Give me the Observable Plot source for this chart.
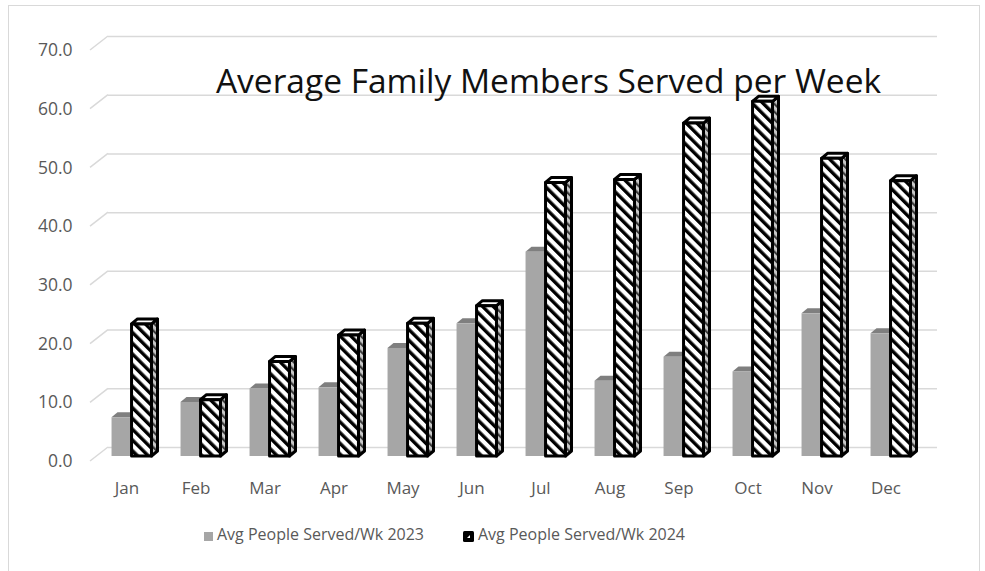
<!DOCTYPE html>
<html><head><meta charset="utf-8">
<script src="https://cdn.jsdelivr.net/npm/d3@7"></script>
<script src="https://cdn.jsdelivr.net/npm/@observablehq/plot@0.6"></script>
<style>
body{margin:0;background:#fff;font-family:"Open Sans",sans-serif;}
#wrap{position:relative;width:985px;height:571px;overflow:hidden;}
#chart{position:absolute;left:0;top:0;}
#frame{position:absolute;left:8px;top:5px;width:972px;height:620px;border:1.5px solid #d9d9d9;box-sizing:border-box;pointer-events:none;}
.legtxt{position:absolute;top:524px;font-size:16px;line-height:20px;color:#595959;white-space:nowrap;}
.sw{position:absolute;}
</style></head><body>
<div id="wrap">
  <div id="chart"></div>
  <div id="legend"></div>
  <div id="frame"></div>
</div>
<script>
const months = ["Jan","Feb","Mar","Apr","May","Jun","Jul","Aug","Sep","Oct","Nov","Dec"];
const avg2023 = [6.6, 9.2, 11.5, 11.7, 18.4, 22.6, 34.8, 12.8, 16.9, 14.4, 24.3, 20.9];
const avg2024 = [22.5, 9.6, 16.1, 20.6, 22.6, 25.6, 46.6, 47.1, 56.7, 60.4, 50.7, 46.9];
const yTicks = [0, 10, 20, 30, 40, 50, 60, 70];
const seriesLabels = ["Avg People Served/Wk 2023", "Avg People Served/Wk 2024"];
const chartTitle = "Average Family Members Served per Week";

const rows = months.map((m, i) => ({month: m, v2023: avg2023[i], v2024: avg2024[i]}));

// 3D look parameters (pixels)
const D = 6, E = 5, LIFT = 9;
const BW = (926.55 - 97.45) / months.length;
const G = {a: -21, b: -2};   // gray bar offsets from band centre
const H = {a: -1, b: 19};    // hatched bar offsets from band centre

const defsMark = () => {
  const g = d3.create("svg:g");
  const defs = g.append("defs");
  const p = defs.append("pattern").attr("id", "hatch").attr("patternUnits", "userSpaceOnUse")
    .attr("width", 7.6).attr("height", 7.6).attr("patternTransform", "rotate(-45)");
  p.append("rect").attr("width", 7.6).attr("height", 7.6).attr("fill", "#fff");
  p.append("rect").attr("width", 3.4).attr("height", 7.6).attr("fill", "#000");
  const s = defs.append("pattern").attr("id", "hatchSide").attr("patternUnits", "userSpaceOnUse")
    .attr("width", 5.5).attr("height", 5.5).attr("patternTransform", "rotate(-45)");
  s.append("rect").attr("width", 5.5).attr("height", 5.5).attr("fill", "#c8c8c8");
  s.append("rect").attr("width", 2.2).attr("height", 5.5).attr("fill", "#3a3a3a");
  return g.node();
};

const diagonals = (index, scales) => {
  const {y} = scales;
  const g = d3.create("svg:g");
  for (const t of yTicks) {
    g.append("line").attr("x1", 90).attr("y1", y(t) + 14).attr("x2", 108).attr("y2", y(t))
      .attr("stroke", "#d9d9d9").attr("stroke-width", 1.5);
  }
  return g.node();
};

function faces(key, off, topFill, sideFill, stroke, sw) {
  return (index, scales) => {
    const {x, y} = scales;
    const g = d3.create("svg:g");
    for (const r of rows) {
      const c = x(r.month) + x.bandwidth() / 2;
      const xa = c + off.a, xb = c + off.b;
      const yt = y(r[key]) + LIFT, yb = y(0) + LIFT;
      const attrs = el => el.attr("stroke", stroke).attr("stroke-width", sw).attr("stroke-linejoin", "round");
      attrs(g.append("path").attr("d", `M${xb},${yb}L${xb + D},${yb - E}L${xb + D},${yt - E}L${xb},${yt}Z`).attr("fill", sideFill));
      attrs(g.append("path").attr("d", `M${xa},${yt}L${xa + D},${yt - E}L${xb + D},${yt - E}L${xb},${yt}Z`).attr("fill", topFill));
    }
    return g.node();
  };
}

const plot = Plot.plot({
  width: 985, height: 505,
  marginLeft: 108, marginRight: 48, marginTop: 36, marginBottom: 58,
  style: {fontFamily: '"Open Sans", sans-serif', background: "transparent", overflow: "visible"},
  x: {type: "band", domain: months, range: [97.45, 926.55], padding: 0, label: null},
  y: {domain: [0, 70], label: null},
  marks: [
    defsMark,
    Plot.ruleY(yTicks, {stroke: "#d9d9d9", strokeWidth: 1.5}),
    diagonals,
    Plot.axisY(yTicks, {tickSize: 0, tickPadding: 36, dy: 14, tickFormat: d => d.toFixed(1), fontSize: 17.5, fill: "#595959", label: null}),
    Plot.axisX({tickSize: 0, tickPadding: 34, dx: -6, fontSize: 17, fill: "#595959", label: null}),
    faces("v2023", G, "#7f7f7f", "#8c8c8c", "none", 0),
    Plot.barY(rows, {x: "month", y: "v2023", fill: "#a6a6a6", dy: LIFT,
      insetLeft: BW / 2 + G.a, insetRight: BW / 2 - G.b}),
    faces("v2024", H, "#ffffff", "url(#hatchSide)", "#000", 3),
    Plot.barY(rows, {x: "month", y: "v2024", fill: "url(#hatch)", stroke: "#000", strokeWidth: 3, strokeLinejoin: "round", dy: LIFT,
      insetLeft: BW / 2 + H.a, insetRight: BW / 2 - H.b}),
    Plot.text([chartTitle], {frameAnchor: "top", dx: 25.5, dy: 33, fontSize: 33.5, fill: "#111"})
  ]
});
document.getElementById("chart").appendChild(plot);

// Legend (below the SVG)
const leg = d3.select("#legend");
leg.append("div").attr("class", "sw").style("left", "204px").style("top", "532px")
  .style("width", "9px").style("height", "9px").style("background", "#a6a6a6");
leg.append("div").attr("class", "legtxt").style("left", "217px").text(seriesLabels[0]);
const sw2 = leg.append("svg").attr("class", "sw").style("left", "463px").style("top", "531px")
  .attr("width", 11).attr("height", 11);
sw2.append("rect").attr("width", 11).attr("height", 11).attr("rx", 1.5).attr("fill", "#000");
sw2.append("path").attr("d", "M4,7L7,4L7,7Z").attr("fill", "#fff");
leg.append("div").attr("class", "legtxt").style("left", "478px").text(seriesLabels[1]);
</script>
</body></html>
